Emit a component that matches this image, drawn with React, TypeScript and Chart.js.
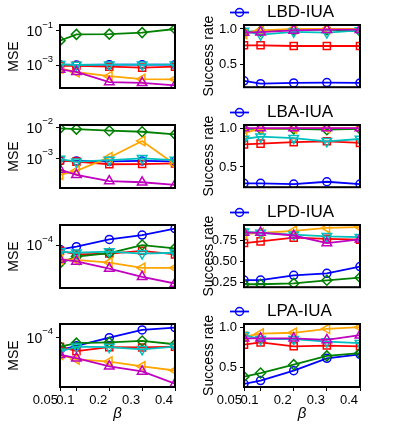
import React, { useEffect, useRef } from 'react';
import { Chart, registerables } from 'chart.js';
Chart.register(...registerables);

// ---------- data ----------
const BETA = [0.05, 0.1, 0.2, 0.3, 0.4];
const X_TICKS = [0.05, 0.1, 0.2, 0.3, 0.4];
const METHODS = ['LBD-IUA', 'LBA-IUA', 'LPD-IUA', 'LPA-IUA'];

// series order: blue(o), red(s), green(D), orange(<), cyan(v), magenta(^)
const MSE_LBD = [
  [1.05e-3, 1.0e-3, 1.05e-3, 1.05e-3, 1.05e-3],
  [9e-4, 9e-4, 8e-4, 7e-4, 8e-4],
  [0.027, 0.063, 0.065, 0.08, 0.13],
  [6.3e-4, 3.8e-4, 2.2e-4, 1.5e-4, 1.45e-4],
  [1.1e-3, 1.0e-3, 1.05e-3, 1.05e-3, 1.05e-3],
  [5.5e-4, 4.0e-4, 1.0e-4, 9e-5, 6.3e-5],
];
const MSE_LBA = [
  [8.2e-4, 8.2e-4, 8.0e-4, 8.2e-4, 8.0e-4],
  [8.5e-4, 7.8e-4, 6.4e-4, 6.5e-4, 6.8e-4],
  [9.5e-3, 9e-3, 8e-3, 7.4e-3, 6.1e-3],
  [2.9e-4, 3.9e-4, 1.07e-3, 3.7e-3, 6.4e-4],
  [9.5e-4, 7.8e-4, 8.8e-4, 1.0e-3, 8.8e-4],
  [4.3e-4, 2.9e-4, 1.8e-4, 1.65e-4, 1.35e-4],
];
const MSE_LPD = [
  [8.7e-5, 9.5e-5, 1.2e-4, 1.38e-4, 1.7e-4],
  [8.3e-5, 7.4e-5, 7.6e-5, 8.3e-5, 7.4e-5],
  [5.6e-5, 6.9e-5, 7.7e-5, 1.0e-4, 9.0e-5],
  [6.3e-5, 6.2e-5, 5.7e-5, 4.8e-5, 4.8e-5],
  [8.1e-5, 7.8e-5, 8.1e-5, 7.6e-5, 7.8e-5],
  [6.3e-5, 5.9e-5, 4.7e-5, 3.6e-5, 2.9e-5],
];
const MSE_LPA = [
  [6.7e-5, 7.7e-5, 1.0e-4, 1.28e-4, 1.38e-4],
  [7.5e-5, 6.5e-5, 7.4e-5, 7.3e-5, 7.5e-5],
  [7.5e-5, 8.4e-5, 8.6e-5, 9.0e-5, 8.1e-5],
  [5.8e-5, 5.0e-5, 4.65e-5, 4.0e-5, 3.5e-5],
  [6.4e-5, 7.5e-5, 7.4e-5, 6.9e-5, 7.5e-5],
  [5.8e-5, 5.2e-5, 4.0e-5, 3.4e-5, 2.3e-5],
];

const SR_LBD = [
  [0.27, 0.23, 0.24, 0.245, 0.24],
  [0.77, 0.77, 0.76, 0.76, 0.76],
  [0.96, 0.97, 0.99, 0.99, 0.97],
  [0.93, 0.98, 1.0, 1.0, 1.0],
  [0.97, 0.92, 0.96, 0.95, 0.98],
  [0.95, 0.955, 0.98, 0.99, 0.99],
];
const SR_LBA = [
  [0.29, 0.29, 0.28, 0.31, 0.28],
  [0.79, 0.8, 0.82, 0.83, 0.81],
  [0.99, 0.99, 0.99, 0.98, 0.99],
  [0.94, 0.99, 1.0, 1.0, 1.0],
  [0.86, 0.89, 0.87, 0.83, 0.86],
  [1.0, 1.0, 1.0, 1.0, 1.0],
];
const SR_LPD = [
  [0.28, 0.28, 0.336, 0.36, 0.44],
  [0.72, 0.74, 0.785, 0.77, 0.76],
  [0.23, 0.23, 0.24, 0.277, 0.31],
  [0.83, 0.84, 0.865, 0.9, 0.91],
  [0.855, 0.84, 0.82, 0.8, 0.79],
  [0.845, 0.845, 0.81, 0.72, 0.765],
];
const SR_LPA = [
  [0.29, 0.33, 0.455, 0.61, 0.66],
  [0.78, 0.81, 0.76, 0.77, 0.76],
  [0.38, 0.425, 0.53, 0.64, 0.675],
  [0.88, 0.92, 0.93, 0.98, 1.0],
  [0.9, 0.85, 0.85, 0.82, 0.8],
  [0.86, 0.86, 0.86, 0.84, 0.9],
];

const MSE_TICKS = [[1e-1, 1e-3], [1e-2, 1e-3], [1e-4], [1e-4]];
const SR_TICKS = [[0.5, 1.0], [0.5, 1.0], [0.25, 0.5, 0.75], [0.5, 1.0]];
const SR_TICK_LABELS = [['0.5', '1.0'], ['0.5', '1.0'], ['0.25', '0.50', '0.75'], ['0.5', '1.0']];

// axis limits
const MSE_RANGE = [
  [Math.pow(10, -4.35), Math.pow(10, -0.65)],
  [Math.pow(10, -3.97), Math.pow(10, -1.91)],
  [Math.pow(10, -4.6), Math.pow(10, -3.72)],
  [Math.pow(10, -4.685), Math.pow(10, -3.81)],
];
const SR_RANGE = [[0.18, 1.056], [0.24, 1.04], [0.195, 0.935], [0.25, 1.04]];

// ---------- styles ----------
const SERIES = [
  { color: '#0000ff', style: 'circle', rot: 0, r: 4 },
  { color: '#ff0000', style: 'rect', rot: 0, r: 5 },
  { color: '#008000', style: 'rectRot', rot: 0, r: 5 },
  { color: '#ffa500', style: 'triangle', rot: -90, r: 5.5 },
  { color: '#00bfbf', style: 'triangle', rot: 180, r: 5.5 },
  { color: '#bf00bf', style: 'triangle', rot: 0, r: 5.5 },
];

const FONT = '"Liberation Sans", Arial, "DejaVu Sans", sans-serif';

const ROW_TOP = [25, 125, 225, 324];
const PLOT_H = 63;

const framePlugin = {
  id: 'frame',
  afterDatasetsDraw(chart: any) {
    const { ctx, chartArea } = chart;
    ctx.save();
    ctx.strokeStyle = '#000';
    ctx.lineWidth = 2;
    ctx.strokeRect(chartArea.left, chartArea.top, chartArea.right - chartArea.left, chartArea.bottom - chartArea.top);
    ctx.restore();
  },
};

// log-axis labels drawn as "10" with a raised exponent, positioned by the y scale
const powLabelPlugin = {
  id: 'powLabels',
  afterDraw(chart: any, _args: any, opts: any) {
    if (!opts || !opts.enabled) return;
    const scale = chart.scales.y;
    const { ctx } = chart;
    ctx.save();
    ctx.fillStyle = '#000';
    ctx.textBaseline = 'alphabetic';
    ctx.textAlign = 'left';
    const right = scale.right - 7;
    scale.ticks.forEach((t: any) => {
      const y = scale.getPixelForValue(t.value);
      const e = Math.round(Math.log10(t.value));
      const expText = (e < 0 ? '\u2212' : '') + String(Math.abs(e));
      ctx.font = '9.5px ' + FONT;
      const ew = ctx.measureText(expText).width;
      ctx.font = '14px ' + FONT;
      const bw = ctx.measureText('10').width;
      const x0 = right - ew - bw;
      ctx.fillText('10', x0, y + 5.3);
      ctx.font = '9.5px ' + FONT;
      ctx.fillText(expText, x0 + bw, y - 3.4);
    });
    ctx.restore();
  },
};

const legendPlugin = {
  id: 'miniLegend',
  afterDraw(chart: any, _args: any, opts: any) {
    if (!opts || !opts.text) return;
    const { ctx, chartArea } = chart;
    const y = chartArea.top - 12.5;
    ctx.save();
    ctx.strokeStyle = SERIES[0].color;
    ctx.lineWidth = 1.8;
    ctx.beginPath();
    ctx.moveTo(40, y);
    ctx.lineTo(59, y);
    ctx.stroke();
    ctx.lineWidth = 1.5;
    ctx.beginPath();
    ctx.arc(49.5, y, 4, 0, Math.PI * 2);
    ctx.stroke();
    ctx.fillStyle = '#000';
    ctx.font = '17px ' + FONT;
    ctx.textBaseline = 'middle';
    ctx.fillText(opts.text, 77, y);
    ctx.restore();
  },
};

function makeDatasets(series: number[][]) {
  return series.map((vals, i) => ({
    data: BETA.map((x, j) => ({ x, y: vals[j] })),
    borderColor: SERIES[i].color,
    backgroundColor: 'rgba(0,0,0,0)',
    borderWidth: 1.8,
    pointStyle: SERIES[i].style,
    pointRotation: SERIES[i].rot,
    pointRadius: SERIES[i].r,
    pointBorderWidth: 1.5,
    pointBorderColor: SERIES[i].color,
    pointBackgroundColor: 'rgba(0,0,0,0)',
    tension: 0,
    clip: 0,
    order: SERIES.length - i,
  }));
}

function makeConfig(opts: {
  series: number[][];
  log: boolean;
  range: number[];
  ticks: number[];
  tickLabels?: string[];
  yTitle: string;
  yWidth: number;
  titlePad: number;
  bottom: boolean;
  padRight: number;
  legend?: string;
}) {
  const tickFont = { family: FONT, size: 13 };
  return {
    type: 'line',
    data: { datasets: makeDatasets(opts.series) },
    plugins: [framePlugin, legendPlugin, powLabelPlugin],
    options: {
      responsive: false,
      animation: false,
      devicePixelRatio: 1,
      events: [],
      layout: { padding: { top: 25, left: 0, right: opts.padRight, bottom: opts.bottom ? 0 : 10 } },
      plugins: {
        legend: { display: false },
        tooltip: { enabled: false },
        miniLegend: { text: opts.legend || '' },
        powLabels: { enabled: opts.log },
      },
      scales: {
        x: {
          type: 'linear',
          min: 0.05,
          max: 0.4,
          display: opts.bottom,
          afterBuildTicks: (s: any) => {
            s.ticks = X_TICKS.map((v) => ({ value: v }));
          },
          afterFit: (s: any) => {
            if (opts.bottom) s.height = 39;
          },
          ticks: {
            callback: (v: any) => String(v),
            font: tickFont,
            color: '#000',
            maxRotation: 0,
            autoSkip: false,
            padding: 2,
            align: 'end',
            labelOffset: -2,
          },
          grid: { display: true, drawOnChartArea: false, drawTicks: true, tickLength: 4, tickColor: '#000', tickWidth: 1 },
          border: { display: false },
          title: {
            display: true,
            text: 'β',
            color: '#000',
            font: { family: FONT, size: 15, style: 'italic' },
            padding: { top: 0, bottom: 3 },
          },
        },
        y: {
          type: opts.log ? 'logarithmic' : 'linear',
          min: opts.range[0],
          max: opts.range[1],
          afterBuildTicks: (s: any) => {
            s.ticks = opts.ticks.map((v) => ({ value: v }));
          },
          afterFit: (s: any) => {
            s.width = opts.yWidth;
          },
          ticks: {
            display: !opts.log,
            callback: (v: any) => {
              const idx = opts.ticks.findIndex((t) => Math.abs(t - v) < 1e-9);
              return opts.tickLabels && idx >= 0 ? opts.tickLabels[idx] : String(v);
            },
            font: tickFont,
            color: '#000',
            padding: 3,
            autoSkip: false,
          },
          grid: { display: true, drawOnChartArea: false, drawTicks: true, tickLength: 4, tickColor: '#000', tickWidth: 1 },
          border: { display: false },
          title: {
            display: true,
            text: opts.yTitle,
            color: '#000',
            font: { family: FONT, size: 14 },
            padding: { top: opts.titlePad, bottom: 0 },
          },
        },
      },
    },
  };
}

const MSE_ALL = [MSE_LBD, MSE_LBA, MSE_LPD, MSE_LPA];
const SR_ALL = [SR_LBD, SR_LBA, SR_LPD, SR_LPA];

type Panel = { left: number; top: number; width: number; height: number; cfg: any };

function buildPanels(): Panel[] {
  const panels: Panel[] = [];
  for (let r = 0; r < 4; r++) {
    const bottom = r === 3;
    const top = ROW_TOP[r] - 25;
    const height = bottom ? 426 - top : 25 + PLOT_H + 10;
    panels.push({
      left: 0,
      top,
      width: 190,
      height,
      cfg: makeConfig({
        series: MSE_ALL[r],
        log: true,
        range: MSE_RANGE[r],
        ticks: MSE_TICKS[r],
        yTitle: 'MSE',
        yWidth: 60,
        titlePad: 6,
        bottom,
        padRight: 15,
      }),
    });
    panels.push({
      left: 190,
      top,
      width: 209,
      height,
      cfg: makeConfig({
        series: SR_ALL[r],
        log: false,
        range: SR_RANGE[r],
        ticks: SR_TICKS[r],
        tickLabels: SR_TICK_LABELS[r],
        yTitle: 'Success rate',
        yWidth: 54,
        titlePad: 10.6,
        bottom,
        padRight: 39,
        legend: METHODS[r],
      }),
    });
  }
  return panels;
}

const PANELS = buildPanels();

export default function App() {
  const refs = useRef<(HTMLCanvasElement | null)[]>([]);
  useEffect(() => {
    const charts = PANELS.map((p, i) => new Chart(refs.current[i] as HTMLCanvasElement, p.cfg));
    return () => charts.forEach((c) => c.destroy());
  }, []);
  return (
    <div style={{ position: 'fixed', left: 0, top: 0, width: 399, height: 426, background: '#fff', overflow: 'hidden' }}>
      {PANELS.map((p, i) => (
        <canvas
          key={i}
          ref={(el) => {
            refs.current[i] = el;
          }}
          width={p.width}
          height={p.height}
          style={{ position: 'absolute', left: p.left, top: p.top, width: p.width, height: p.height }}
        />
      ))}
    </div>
  );
}
